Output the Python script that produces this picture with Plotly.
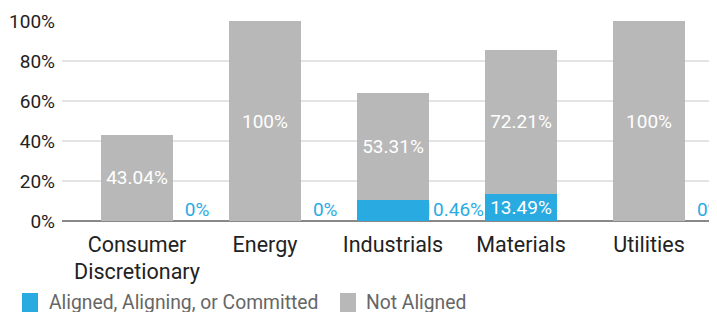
import plotly.graph_objects as go

categories = ["Consumer<br>Discretionary", "Energy", "Industrials", "Materials", "Utilities"]
aligned = [0, 0, 10.46, 13.49, 0]
not_aligned = [43.04, 100, 53.31, 72.21, 100]
tick_vals = [0, 20, 40, 60, 80, 100]
tick_text = ["0%", "20%", "40%", "60%", "80%", "100%"]
series_names = ["Aligned, Aligning, or Committed", "Not Aligned"]

BLUE = "#29ABE2"
GRAY = "#B8B8B8"
FONT = "Roboto"

# page body adds an 8px offset, so the figure is 8px smaller than the window
W, H = 709, 304
ML, MT, MB = 54, 13, 91
PLOT_H = H - MT - MB
X_RANGE = [-0.586, 4.531]
Y_RANGE = [0, 100]

xs = list(range(len(categories)))
fits = [v >= 12 for v in aligned]

fig = go.Figure()

# outside labels for blue bars that are too small (drawn beneath the bars)
out_x = [x + 0.47 for x, f in zip(xs, fits) if not f]
out_y = [0 for f in fits if not f]
out_t = [f"{v:g}%" for v, f in zip(aligned, fits) if not f]
fig.add_trace(go.Scatter(
    x=out_x, y=out_y, mode="text", text=out_t,
    textposition="top center", textfont=dict(color=BLUE, size=19, family=FONT),
    showlegend=False, hoverinfo="skip", cliponaxis=True,
))

# bars live on an overlaying axis pair so they are drawn above the labels
fig.add_trace(go.Bar(
    x=xs, y=aligned, name=series_names[0], xaxis="x2", yaxis="y2",
    marker=dict(color=BLUE, line=dict(width=0)), width=0.5625,
    text=[f"{v:g}%" if f else "" for v, f in zip(aligned, fits)],
    textposition="inside", insidetextanchor="middle", constraintext="none",
    textfont=dict(color="white", size=19, family=FONT),
    showlegend=False,
))
fig.add_trace(go.Bar(
    x=xs, y=not_aligned, name=series_names[1], xaxis="x2", yaxis="y2",
    marker=dict(color=GRAY, line=dict(width=0)), width=0.5625,
    text=[f"{v:g}%" for v in not_aligned],
    textposition="inside", insidetextanchor="middle", constraintext="none",
    textfont=dict(color="white", size=19, family=FONT),
    showlegend=False,
))

# legend drawn as squares + labels at the bottom of the page
leg_colors = [BLUE, GRAY]
leg_x_px = [14, 332]      # square left edge in figure pixels
leg_text_dx = [25, 24]
leg_y_px = 285            # square top in figure pixels
for name, col, lx, dx in zip(series_names, leg_colors, leg_x_px, leg_text_dx):
    x0 = (lx - ML) / (W - ML)
    x1 = (lx + 16 - ML) / (W - ML)
    y0 = -((leg_y_px + 24) - (H - MB)) / PLOT_H
    y1 = -((leg_y_px) - (H - MB)) / PLOT_H
    ymid = -((leg_y_px + 9) - (H - MB)) / PLOT_H
    fig.add_shape(type="rect", xref="paper", yref="paper",
                  x0=x0, x1=x1, y0=y0, y1=y1,
                  fillcolor=col, line=dict(width=0))
    fig.add_annotation(xref="paper", yref="paper",
                       x=(lx + dx - ML) / (W - ML), y=ymid,
                       xanchor="left", yanchor="middle", showarrow=False,
                       text=name, font=dict(size=19.3, color="#666", family=FONT))

fig.update_layout(
    barmode="stack",
    width=W, height=H,
    margin=dict(l=ML, r=0, t=MT, b=MB, autoexpand=False),
    paper_bgcolor="white", plot_bgcolor="white",
    font=dict(family=FONT, size=19, color="#222"),
    showlegend=False,
    xaxis=dict(
        range=X_RANGE, tickmode="array", tickvals=xs, ticktext=categories,
        showgrid=False, zeroline=False, showline=False, ticks="",
        tickfont=dict(size=21.5, color="#222"), ticklabelstandoff=8,
    ),
    yaxis=dict(
        range=Y_RANGE, tickmode="array", tickvals=tick_vals, ticktext=tick_text,
        showgrid=True, gridcolor="#E3E3E3", gridwidth=2,
        zeroline=True, zerolinecolor="#888", zerolinewidth=2,
        ticks="", tickfont=dict(size=19, color="#222"), ticklabelstandoff=6,
    ),
    xaxis2=dict(range=X_RANGE, overlaying="x", visible=False),
    yaxis2=dict(range=Y_RANGE, overlaying="y", visible=False),
)

fig.write_html("out.html")
